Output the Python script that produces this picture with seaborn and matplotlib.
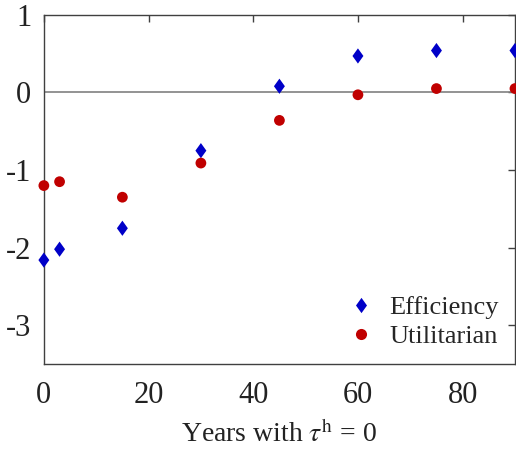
import numpy as np
import pandas as pd
import matplotlib
matplotlib.use('Agg')
import matplotlib.pyplot as plt
import seaborn as sns

# data
years = [0, 3, 15, 30, 45, 60, 75, 90]
efficiency = [-2.16, -2.02, -1.75, -0.75, 0.08, 0.47, 0.54, 0.54]
utilitarian = [-1.20, -1.15, -1.35, -0.91, -0.36, -0.03, 0.05, 0.05]

df = pd.DataFrame({
    'years': years * 2,
    'value': efficiency + utilitarian,
    'series': ['Efficiency'] * len(years) + ['Utilitarian'] * len(years),
})

sns.set_style('white')
plt.rcParams['font.family'] = ['Liberation Serif', 'DejaVu Serif']
plt.rcParams['mathtext.fontset'] = 'stix'

# matlab-like diamond, a bit wider than mpl's 'd'
diamond = [(0, 1), (0.72, 0), (0, -1), (-0.72, 0), (0, 1)]

fig = plt.figure(figsize=(5.16, 4.5), dpi=100)
ax = fig.add_axes([0.085, 0.191, 0.913, 0.776])

ax.axhline(0, color='#808080', lw=1.2, zorder=1)
sns.scatterplot(data=df, x='years', y='value', hue='series', style='series',
                size='series',
                palette={'Efficiency': '#0000C8', 'Utilitarian': '#C00000'},
                markers={'Efficiency': diamond, 'Utilitarian': 'o'},
                sizes={'Efficiency': 120, 'Utilitarian': 60},
                linewidth=0, ax=ax, zorder=3, clip_on=False)

ax.set_xlim(0, 90)
ax.set_ylim(-3.5, 1)
ax.set_xticks([0, 20, 40, 60, 80])
ax.set_yticks([-3, -2, -1, 0, 1])
ax.set_yticklabels(['-3', '-2', '-1', '0', '1'])
ax.tick_params(direction='in', top=True, right=True, length=5, width=1,
               color='#404040', labelsize=22, labelcolor='#222222')
ax.tick_params(axis='x', pad=12)
ax.tick_params(axis='y', pad=9)
for sp in ax.spines.values():
    sp.set_color('#404040')
    sp.set_linewidth(1)

ax.set_xlabel(r'Years with $\tau^{\rm h}$ = 0', fontsize=20, color='#222222', labelpad=8)
ax.set_ylabel('')

leg = ax.legend(loc='lower right', frameon=False, fontsize=19,
                handletextpad=0.5, borderaxespad=0.2, labelspacing=0.2,
                handlelength=1.2)
for h in leg.legend_handles:
    h.set_markersize(8)
leg.legend_handles[0].set_markersize(11)

plt.savefig('out.png', dpi=100)
